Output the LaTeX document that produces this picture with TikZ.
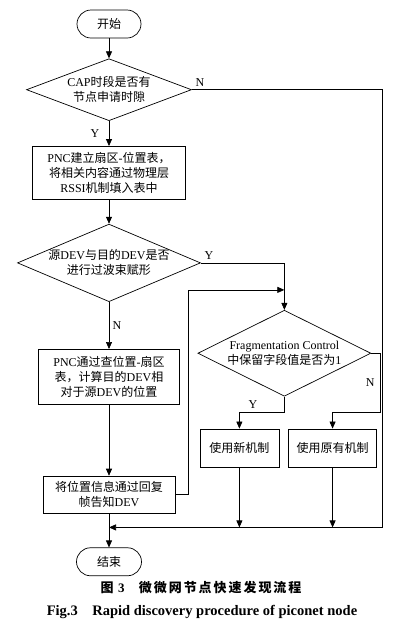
\documentclass[tikz,border=0pt]{standalone}
\usepackage{fontspec}
\setmainfont{Liberation Serif}
\newfontfamily\cjk{Noto Sans CJK SC}
\newfontfamily\cjkcap[LetterSpace=15]{Noto Sans CJK SC}
\newcommand{\zh}[1]{{\cjk #1}}
\usetikzlibrary{shapes.geometric,arrows.meta,positioning,calc}

\begin{document}
\begin{tikzpicture}[
  node distance=20pt,
  line width=0.7pt,
  txt/.style={font=\fontsize{12}{15}\selectfont, align=center},
  term/.style={txt, rectangle, draw, rounded corners=14pt,
    minimum width=64pt, minimum height=28pt},
  box/.style={txt, rectangle, draw, inner sep=2pt},
  decision/.style={txt, diamond, draw, inner sep=0pt},
  lbl/.style={font=\fontsize{12}{14}\selectfont},
  arr/.style={-{Triangle[length=7pt,width=6pt]}}
]
\useasboundingbox (0,0) rectangle (403pt,-630pt);
\node[term] (start) at (109pt,-24pt) {\zh{开始}};
\node[decision, below=20pt of start, minimum width=165pt, minimum height=62pt, aspect=2.66] (cap)
  {CAP\zh{时段是否有}\\\zh{节点申请时隙}};
\node[box, below=25pt of cap, minimum width=153pt, minimum height=53pt] (table)
  {PNC\zh{建立扇区}-\zh{位置表，}\\\zh{将相关内容通过物理层}\\RSSI\zh{机制填入表中}};
\node[decision, below=24pt of table, minimum width=179pt, minimum height=76pt, aspect=2.36] (beam)
  {\zh{源}DEV\zh{与目的}DEV\zh{是否}\\\zh{进行过波束赋形}};
\node[box, below=47pt of beam, minimum width=141pt, minimum height=55pt] (lookup)
  {PNC\zh{通过查位置}-\zh{扇区}\\\zh{表，计算目的}DEV\zh{相}\\\zh{对于源}DEV\zh{的位置}};
\node[box, below=71pt of lookup, minimum width=132pt, minimum height=37pt] (reply)
  {\zh{将位置信息通过回复}\\\zh{帧告知}DEV};
\node[term, below=34pt of reply, minimum width=65pt] (stop) {\zh{结束}};
\node[decision, below=47pt of beam.east, xshift=83.5pt, minimum width=173pt, minimum height=86pt, aspect=2] (frag)
  {Fragmentation Control\\\zh{中保留字段值是否为}1};
\node[box, below=32pt of frag.south, xshift=-45pt, minimum width=79pt, minimum height=38pt] (newmech) {\zh{使用新机制}};
\node[box, right=9pt of newmech, minimum width=88pt, minimum height=38pt] (oldmech) {\zh{使用原有机制}};
% join points
\coordinate[below=14pt of reply.south] (merge);
\coordinate (rcorner) at ($(merge)+(273.5pt,0)$);
\coordinate[above=20pt of frag.north] (loop);
% connectors
\draw[arr] (start) -- (cap);
\draw[arr] (cap) -- node[lbl, midway, left=6pt] {Y} (table);
\draw[arr] (cap.east) node[lbl, above right] {N} -| (rcorner) -- (merge);
\draw[arr] (table) -- (beam);
\draw[arr] (beam) -- node[lbl, midway, right] {N} (lookup);
\draw[arr] (beam.east) node[lbl, above right] {Y} -| (frag.north);
\draw[arr] (lookup) -- (reply);
\draw[arr] (reply.east) -- ++(13pt,0) |- (loop);
\draw[arr] (frag.south) -- ++(0,-16pt) -| node[lbl, pos=0.35, above] {Y} (newmech.north);
\draw[arr] (frag.east) -- ++(9pt,0) -- node[lbl, midway, left=2pt] {N} ++(0,-59pt) -| (oldmech.north);
\draw[arr] (newmech) -- (newmech |- merge);
\draw[arr] (oldmech) -- (oldmech |- merge);
\draw[arr] (reply) -- (stop);
% caption
\node[font=\fontsize{13}{15}\selectfont\bfseries] (capzh) at (201pt,-588pt)
  {{\cjkcap 图}\hspace{0.35em}3\hspace{1.1em}{\cjkcap 微微网节点快速发现流程}};
\node[font=\fontsize{14.5}{17}\selectfont\bfseries] (capen) at (202pt,-612pt)
  {Fig.3\hspace{1em}Rapid discovery procedure of piconet node};
\end{tikzpicture}
\end{document}
